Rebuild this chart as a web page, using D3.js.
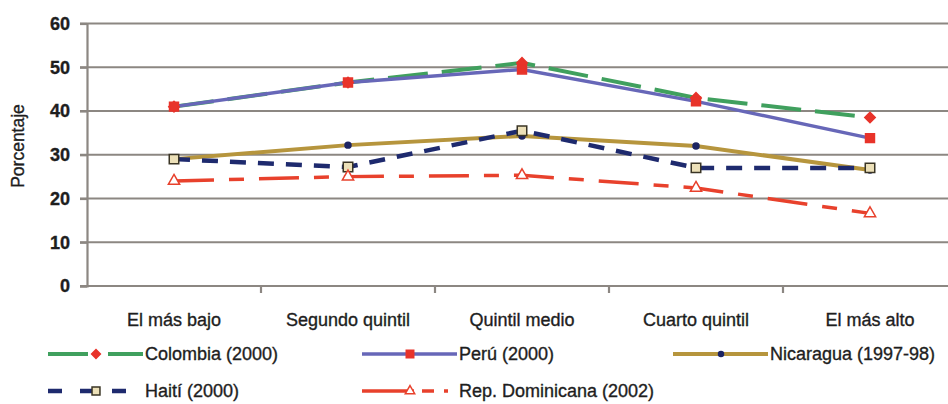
<!DOCTYPE html>
<html lang="es">
  <head>
    <meta charset="UTF-8" />
    <title>Porcentaje por quintil</title>
    <script src="https://d3js.org/d3.v7.min.js"></script>
    <style>
      body { margin: 0; background: #fff; }
      svg text {
        font-family: "Liberation Sans", Arial, sans-serif;
        fill: #1e1e1e;
        stroke: #1e1e1e;
        stroke-width: 0.35px;
      }
    </style>
  </head>
  <body>
    <script>
      // quintiles
      const categories = ["El más bajo", "Segundo quintil", "Quintil medio", "Cuarto quintil", "El más alto"];
      const yTicks = [0, 10, 20, 30, 40, 50, 60];

      const colombia = [41, 46.5, 51, 43, 38.5];
      const peru = [41, 46.5, 49.5, 42.2, 33.8];
      const nicaragua = [29, 32.2, 34.3, 32, 26.5];
      const haiti = [29, 27.2, 35.5, 27, 27];
      const repDominicana = [24, 25, 25.3, 22.4, 16.6];

      const series = [
        { name: "Colombia (2000)", values: colombia, color: "#40a05e", width: 4, dash: "40,14", legendDash: "40,20,40", marker: "diamond", mfill: "#e8332a", mstroke: "#e8332a", size: 55 },
        { name: "Perú (2000)", values: peru, color: "#6767b8", width: 3.5, dash: null, legendDash: null, marker: "square", mfill: "#e8332a", mstroke: "#e8332a", size: 80 },
        { name: "Nicaragua (1997-98)", values: nicaragua, color: "#b6953d", width: 4, dash: null, legendDash: null, marker: "circle", mfill: "#1c2463", mstroke: "#1c2463", size: 28 },
        { name: "Haití (2000)", values: haiti, color: "#1e2a6e", width: 4.5, dash: "16,12", legendDash: "14,18", marker: "square", mfill: "#ece0b8", mstroke: "#3a3525", size: 90 },
        { name: "Rep. Dominicana (2002)", values: repDominicana, color: "#e8412c", width: 3.5, dash: "40,15,15,15", legendDash: "52,8,12,10,4", marker: "triangle", mfill: "#fff", mstroke: "#e8412c", size: 55 }
      ];

      const width = 948, height = 404;
      const mLeft = 87, mTop = 23.5, mBottom = 286, bandW = 174;

      const svg = d3.select("body").append("svg")
        .attr("width", width)
        .attr("height", height);

      const x = d3.scaleBand().domain(categories).range([mLeft, mLeft + bandW * categories.length]);
      const y = d3.scaleLinear().domain([0, 60]).range([mBottom, mTop]);

      // grid
      svg.append("g").selectAll("line").data(yTicks).join("line")
        .attr("x1", mLeft - 7).attr("x2", width)
        .attr("y1", d => y(d)).attr("y2", d => y(d))
        .attr("stroke", "#8c8782").attr("stroke-width", 2.2);

      // y axis
      const yAxis = svg.append("g")
        .attr("transform", `translate(${mLeft},0)`)
        .call(d3.axisLeft(y).tickValues(yTicks).tickSize(7).tickPadding(10));
      yAxis.select(".domain").attr("stroke", "#8c8782").attr("stroke-width", 2.2);
      yAxis.selectAll(".tick line").attr("stroke", "#8c8782").attr("stroke-width", 2.2);
      yAxis.selectAll("text").style("font-size", "18px").style("font-weight", "bold").attr("fill", "#1e1e1e");

      // x axis
      const xAxis = svg.append("g")
        .attr("transform", `translate(0,${mBottom})`)
        .call(d3.axisBottom(x).tickSize(0).tickPadding(27));
      xAxis.select(".domain").remove();
      xAxis.selectAll("text").style("font-size", "18px").attr("fill", "#1e1e1e");
      svg.append("g").selectAll("line")
        .data(d3.range(1, categories.length + 1))
        .join("line")
        .attr("x1", i => mLeft + i * bandW).attr("x2", i => mLeft + i * bandW)
        .attr("y1", mBottom).attr("y2", mBottom + 7)
        .attr("stroke", "#8c8782").attr("stroke-width", 2.2);

      svg.append("text")
        .attr("transform", "translate(24,146) rotate(-90)")
        .attr("text-anchor", "middle")
        .style("font-size", "17.5px")
        .text("Porcentaje");

      const cx = d => x(d) + x.bandwidth() / 2;
      const line = d3.line().x((d, i) => cx(categories[i])).y(d => y(d));

      // diamond drawn as a rotated square so it is not elongated
      const symbolOf = m => ({ diamond: d3.symbolSquare, square: d3.symbolSquare, circle: d3.symbolCircle, triangle: d3.symbolTriangle }[m]);
      const rot = m => (m === "diamond" ? " rotate(45)" : "");

      series.forEach(s => {
        svg.append("path")
          .datum(s.values)
          .attr("fill", "none")
          .attr("stroke", s.color)
          .attr("stroke-width", s.width)
          .attr("stroke-dasharray", s.dash)
          .attr("d", line);
      });
      series.forEach(s => {
        svg.append("g").selectAll("path").data(s.values).join("path")
          .attr("transform", (d, i) => `translate(${cx(categories[i])},${y(d)})${rot(s.marker)}`)
          .attr("d", d3.symbol().type(symbolOf(s.marker)).size(s.size))
          .attr("fill", s.mfill)
          .attr("stroke", s.mstroke)
          .attr("stroke-width", 1.5);
      });

      // legend
      const legendPos = [
        [48, 354], [362, 354], [673, 354],
        [48, 391], [362, 391]
      ];
      series.forEach((s, i) => {
        const [lx, ly] = legendPos[i];
        const g = svg.append("g").attr("transform", `translate(${lx},${ly})`);
        g.append("line")
          .attr("x1", 0).attr("x2", 95).attr("y1", 0).attr("y2", 0)
          .attr("stroke", s.color).attr("stroke-width", s.width)
          .attr("stroke-dasharray", s.legendDash);
        g.append("path")
          .attr("transform", "translate(48,0)" + rot(s.marker))
          .attr("d", d3.symbol().type(symbolOf(s.marker)).size(s.size * 0.7))
          .attr("fill", s.mfill).attr("stroke", s.mstroke).attr("stroke-width", 1.5);
        g.append("text")
          .attr("x", 97).attr("y", 0).attr("dy", "0.35em")
          .style("font-size", "18px")
          .text(s.name);
      });
    </script>
  </body>
</html>
